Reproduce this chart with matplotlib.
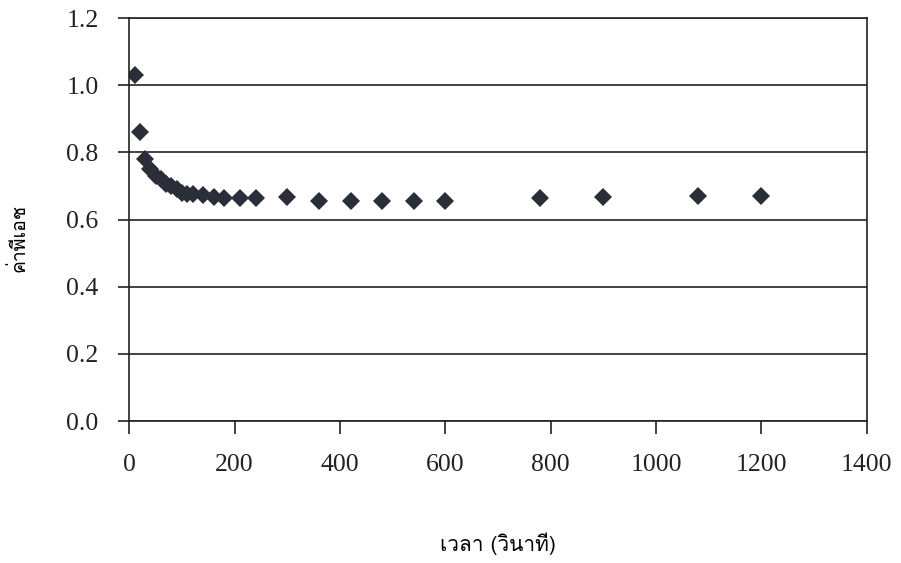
import matplotlib
matplotlib.use("Agg")
import matplotlib.pyplot as plt
from matplotlib import font_manager as fm
from matplotlib.ft2font import FT2Font

# pH readings over time
time_s = [10, 20, 30, 40, 50, 60, 70, 80, 90, 100, 110, 120,
          140, 160, 180, 210, 240, 300, 360, 420, 480, 540, 600,
          780, 900, 1080, 1200]
ph = [1.03, 0.86, 0.78, 0.75, 0.73, 0.72, 0.705, 0.70, 0.69, 0.68, 0.675, 0.675,
      0.672, 0.668, 0.665, 0.665, 0.665, 0.668, 0.655, 0.655, 0.655, 0.655, 0.655,
      0.665, 0.668, 0.67, 0.67]

x_ticks = [0, 200, 400, 600, 800, 1000, 1200, 1400]
y_ticks = [0.0, 0.2, 0.4, 0.6, 0.8, 1.0, 1.2]
x_label = "เวลา (วินาที)"
y_label = "ค่าพีเอช"


def thai_family():
    names = []
    for f in fm.fontManager.ttflist:
        try:
            if 0x0E40 in FT2Font(f.fname).get_charmap():
                names.append(f.name)
        except Exception:
            pass
    return names[0] if names else "DejaVu Sans"


thai = thai_family()
serif = "Liberation Serif"

fig = plt.figure(figsize=(9.01, 5.63), dpi=100)
ax = fig.add_axes([0.1435, 0.252, 0.962 - 0.1435, 0.968 - 0.252])

ax.plot(time_s, ph, linestyle="none", marker="D", markersize=9.5,
        color="#2a2e38", markeredgewidth=0)

ax.set_xlim(0, 1400)
ax.set_ylim(0, 1.2)
ax.set_xticks(x_ticks)
ax.set_yticks(y_ticks)
ax.set_xticklabels([str(v) for v in x_ticks], family=serif, fontsize=18.5)
ax.set_yticklabels([f"{v:.1f}" for v in y_ticks], family=serif, fontsize=18.5)
ax.tick_params(axis="x", direction="out", length=9, width=1.2, pad=15, colors="#222222")
ax.tick_params(axis="y", direction="out", length=8, width=1.2, pad=14, colors="#222222")

ax.yaxis.grid(True, color="#222222", linewidth=1.2)
ax.set_axisbelow(True)
for side in ["left", "right", "top", "bottom"]:
    ax.spines[side].set_color("#222222")
    ax.spines[side].set_linewidth(1.2)

ax.set_xlabel(x_label, family=[thai, "DejaVu Sans"], fontsize=15, labelpad=40)
ax.set_ylabel(y_label, family=[thai, "DejaVu Sans"], fontsize=14)
ax.yaxis.set_label_coords(-0.137, 0.455)

fig.savefig("out.png", dpi=100, facecolor="white")
